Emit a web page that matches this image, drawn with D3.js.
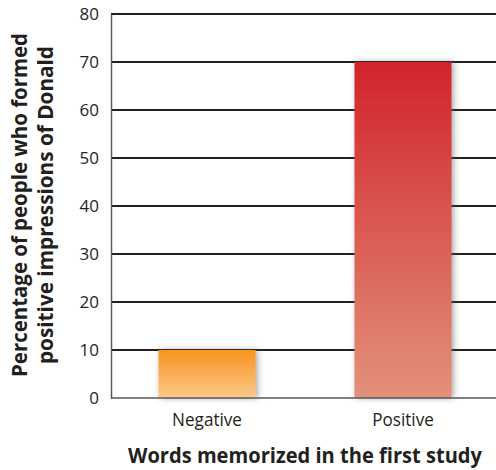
<!DOCTYPE html>
<html>
<head>
<meta charset="utf-8">
<script src="https://cdn.jsdelivr.net/npm/d3@7"></script>
<style>
  body { margin: 0; background: #fff; }
  svg text { font-family: "Open Sans", "Noto Sans", sans-serif; fill: #231f20; }
</style>
</head>
<body>
<div class="chart"></div>
<script>
var categories = ["Negative", "Positive"];
var values = [10, 70];
var yTicks = [0, 10, 20, 30, 40, 50, 60, 70, 80];
var xTitle = "Words memorized in the first study";
var yTitle = ["Percentage of people who formed", "positive impressions of Donald"];

var w = 496,
    h = 470;

var vis = d3.select(".chart").append("svg")
    .attr("width", w)
    .attr("height", h);

var x = d3.scaleBand().domain(categories).range([111, 499])
    .paddingInner(0.505).paddingOuter(0.2425);
var y = d3.scaleLinear().domain([0, 80]).range([398, 14]);

var defs = vis.append("defs");
var grads = [["#f7931e", "#fdc98b"], ["#d2232a", "#e3917b"]];
grads.forEach(function(g, i) {
  var lg = defs.append("linearGradient").attr("id", "g" + i)
      .attr("x1", 0).attr("y1", 0).attr("x2", 0).attr("y2", 1);
  lg.append("stop").attr("offset", "0%").attr("stop-color", g[0]);
  lg.append("stop").attr("offset", "100%").attr("stop-color", g[1]);
});
defs.append("filter").attr("id", "shadow")
    .attr("x", "-20%").attr("y", "-20%").attr("width", "140%").attr("height", "140%")
  .append("feDropShadow")
    .attr("dx", 2).attr("dy", 0).attr("stdDeviation", 3)
    .attr("flood-color", "#555").attr("flood-opacity", 0.55);

// gridlines
vis.append("g").selectAll("line").data(yTicks.slice(1)).enter().append("line")
    .attr("x1", 111).attr("x2", w)
    .attr("y1", function(d) { return y(d); })
    .attr("y2", function(d) { return y(d); })
    .attr("stroke", "#231f20").attr("stroke-width", 2);

// bars
vis.append("g").selectAll("rect").data(values).enter().append("rect")
    .attr("x", function(d, i) { return x(categories[i]); })
    .attr("width", x.bandwidth())
    .attr("y", function(d) { return y(d); })
    .attr("height", function(d) { return y(0) - y(d); })
    .attr("fill", function(d, i) { return "url(#g" + i + ")"; })
    .attr("filter", "url(#shadow)");

// axes
var yAxis = vis.append("g").attr("transform", "translate(111,0)")
    .call(d3.axisLeft(y).tickValues(yTicks).tickSize(0).tickPadding(12));
yAxis.select(".domain").attr("stroke", "#58595b").attr("stroke-width", 1.5);
yAxis.selectAll("text").style("font-size", "17px").attr("fill", "#231f20");

var xAxis = vis.append("g").attr("transform", "translate(0,398)")
    .call(d3.axisBottom(x).tickSize(0).tickPadding(15));
xAxis.select(".domain").attr("d", "M111,0H" + w).attr("stroke", "#58595b").attr("stroke-width", 1.5);
xAxis.selectAll("text").style("font-size", "19px").attr("fill", "#231f20")
    .each(function() {
      var t = d3.select(this);
      t.attr("textLength", this.getComputedTextLength() * 0.9).attr("lengthAdjust", "spacingAndGlyphs");
    });

// titles, squeezed a little to match the condensed face of the original
vis.append("text")
    .attr("x", 305).attr("y", 463)
    .attr("text-anchor", "middle")
    .attr("textLength", 354).attr("lengthAdjust", "spacingAndGlyphs")
    .style("font-size", "22px").style("font-weight", "bold")
    .text(xTitle);

var yLens = [344, 318];
var yBase = [27, 53];
var yt = vis.append("text")
    .attr("transform", "translate(0,205) rotate(-90)")
    .attr("text-anchor", "middle")
    .style("font-size", "22px").style("font-weight", "bold");
yt.selectAll("tspan").data(yTitle).enter().append("tspan")
    .attr("x", 0)
    .attr("y", function(d, i) { return yBase[i]; })
    .attr("textLength", function(d, i) { return yLens[i]; })
    .attr("lengthAdjust", "spacingAndGlyphs")
    .text(function(d) { return d; });
</script>
</body>
</html>
